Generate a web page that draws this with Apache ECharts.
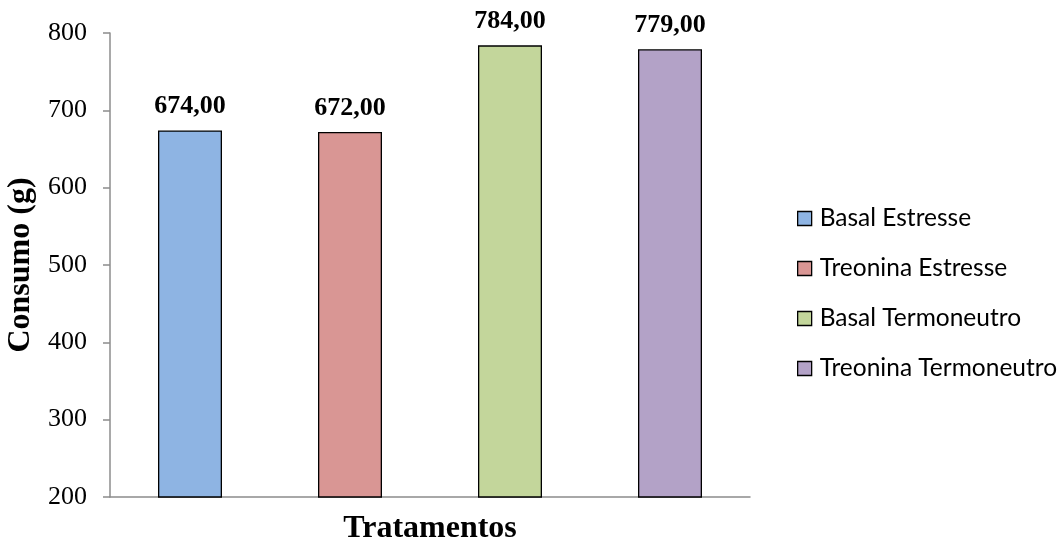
<!DOCTYPE html>
<html>
<head>
<meta charset="utf-8">
<script src="https://cdn.jsdelivr.net/npm/echarts@6/dist/echarts.min.js"></script>
<style>
  html, body { margin: 0; padding: 0; background: #fff; }
  #chart { width: 1062px; height: 540px; }
</style>
</head>
<body>
<div id="chart"></div>
<script>
// Consumo de ração por tratamento
const categories = ['Basal Estresse', 'Treonina Estresse', 'Basal Termoneutro', 'Treonina Termoneutro'];
const values = [674, 672, 784, 779];
const colors = ['#8EB4E3', '#D99694', '#C3D69B', '#B3A2C7'];
const yTicks = { min: 200, max: 800, interval: 100 };

const chart = echarts.init(document.getElementById('chart'));

// one series per treatment so each gets its own legend entry; stacking keeps bars centred
const series = categories.map((name, i) => ({
  name: name,
  type: 'bar',
  stack: 'all',
  barWidth: 64,
  data: categories.map((_, j) => (j === i ? values[i] : '-')),
  itemStyle: { color: colors[i], borderColor: '#000', borderWidth: 1.3 },
  label: {
    show: true,
    position: 'top',
    distance: 11,
    formatter: p => p.value.toFixed(2).replace('.', ','),
    fontFamily: 'Liberation Serif',
    fontWeight: 'bold',
    fontSize: 26,
    color: '#000'
  }
}));

chart.setOption({
  animation: false,
  backgroundColor: '#fff',
  grid: { left: 110, right: 312, top: 33, bottom: 43, containLabel: false, outerBoundsMode: 'none' },
  legend: {
    orient: 'vertical',
    left: 792,
    top: 201,
    itemWidth: 14,
    itemHeight: 14,
    itemGap: 25,
    icon: 'rect',
    data: categories,
    itemStyle: { borderColor: '#000', borderWidth: 1.3 },
    textStyle: { fontFamily: 'Lato', fontSize: 24.5, color: '#000', lineHeight: 24, padding: [0, 0, 0, 3] }
  },
  xAxis: {
    type: 'category',
    data: categories,
    name: 'Tratamentos',
    nameLocation: 'middle',
    nameGap: 16,
    nameTextStyle: { fontFamily: 'Liberation Serif', fontWeight: 'bold', fontSize: 32, color: '#000' },
    axisLine: { lineStyle: { color: '#8c8c8c', width: 1.5 } },
    axisTick: { show: false },
    axisLabel: { show: false }
  },
  yAxis: {
    type: 'value',
    min: yTicks.min,
    max: yTicks.max,
    interval: yTicks.interval,
    name: 'Consumo (g)',
    nameLocation: 'middle',
    nameGap: 71,
    nameTextStyle: { fontFamily: 'Liberation Serif', fontWeight: 'bold', fontSize: 32, color: '#000' },
    axisLine: { show: true, lineStyle: { color: '#8c8c8c', width: 1.5 } },
    axisTick: { show: true, length: 7, lineStyle: { color: '#8c8c8c', width: 1.5 } },
    splitLine: { show: false },
    axisLabel: { fontFamily: 'Liberation Serif', fontSize: 26, color: '#000', margin: 23 }
  },
  series: series
});
</script>
</body>
</html>
